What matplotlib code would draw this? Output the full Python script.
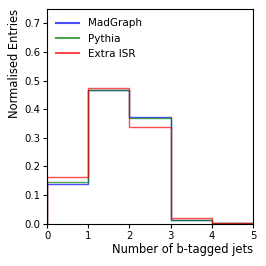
import numpy as np
import matplotlib
matplotlib.use("Agg")
import matplotlib.pyplot as plt
from matplotlib.lines import Line2D

bins = [0, 1, 2, 3, 4, 5]
madgraph = [0.140, 0.468, 0.374, 0.013, 0.002]
pythia = [0.147, 0.467, 0.368, 0.014, 0.002]
extra_isr = [0.163, 0.473, 0.339, 0.020, 0.002]

series = [("MadGraph", madgraph, "blue"),
          ("Pythia", pythia, "green"),
          ("Extra ISR", extra_isr, "red")]

fig = plt.figure(figsize=(2.66, 2.66), dpi=100)
ax = fig.add_axes([0.177, 0.159, 0.774, 0.807])

centers = np.array(bins[:-1]) + 0.5
handles = []
for name, vals, col in series:
    ax.hist(centers, bins=bins, weights=vals, histtype="step", color=col, alpha=0.7)
    handles.append(Line2D([], [], color=col, alpha=0.7, label=name))

ax.set_xlim(0, 5)
ax.set_ylim(0, 0.75)
ax.set_xticks(bins)
ax.tick_params(labelsize=7.3, length=3, pad=2)
ax.set_xlabel("Number of b-tagged jets", loc="right", fontsize=8.3, labelpad=2)
ax.set_ylabel("Normalised Entries", loc="top", fontsize=8.3, labelpad=2)
ax.legend(handles=handles, loc="upper left", frameon=False, fontsize=7.5,
          handlelength=2.2, labelspacing=0.5, borderaxespad=0.5)

fig.savefig("out.png", dpi=100)
